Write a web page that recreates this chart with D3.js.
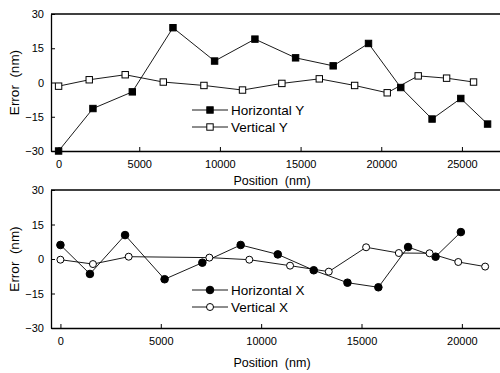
<!DOCTYPE html>
<html>
<head>
<meta charset="utf-8">
<script src="https://cdn.jsdelivr.net/npm/d3@7"></script>
<style>
  body { margin: 0; background: #fff; }
  svg { font-family: Arial, "Liberation Sans", sans-serif; }
  text { white-space: pre; }
</style>
</head>
<body>
<svg id="chart" width="500" height="373"></svg>
<script>
// top panel: Y error vs position
const horizYpos = [0, 2130, 4570, 7090, 9670, 12170, 14690, 17020, 19210, 21210, 23150, 24930, 26590];
const horizYerr = [-30, -11.4, -4.1, 24.0, 9.4, 19.0, 10.8, 7.3, 17.1, -2.2, -16.0, -7.0, -18.2];
const vertYpos = [0, 1900, 4130, 6490, 9010, 11400, 13840, 16160, 18350, 20370, 22290, 24050, 25720];
const vertYerr = [-1.6, 1.2, 3.4, 0.2, -1.3, -3.3, -0.4, 1.6, -1.3, -4.5, 2.9, 1.9, 0.2];

// bottom panel: X error vs position
const horizXpos = [0, 1470, 3220, 5190, 7070, 8980, 10830, 12620, 14300, 15840, 17320, 18690, 19950];
const horizXerr = [6.1, -6.5, 10.4, -8.8, -1.6, 6.1, 2.0, -4.9, -10.3, -12.3, 5.2, 1.0, 11.7];
const vertXpos = [0, 1620, 3400, 7420, 9410, 11440, 13370, 15230, 16860, 18390, 19820, 21160];
const vertXerr = [-0.3, -2.2, 1.0, 0.6, -0.3, -2.9, -5.5, 5.1, 2.6, 2.5, -1.3, -3.3];

const yTicks = [-30, -15, 0, 15, 30];
const xTicksTop = [0, 5000, 10000, 15000, 20000, 25000];
const xTicksBottom = [0, 5000, 10000, 15000, 20000];

const svg = d3.select('#chart');

function panel(opts) {
  const g = svg.append('g');
  const x = d3.scaleLinear().domain(opts.xDomain).range([51, 500]);
  const y = d3.scaleLinear().domain([-30, 30]).range([opts.bottom, opts.top]);

  // frame: top line and left/bottom axes
  g.append('line').attr('x1', 51).attr('x2', 500).attr('y1', opts.top).attr('y2', opts.top)
    .attr('stroke', '#000').attr('stroke-width', 1.3);

  const xAxis = g.append('g').attr('transform', `translate(0,${opts.bottom})`)
    .call(d3.axisBottom(x).tickValues(opts.xTicks).tickSizeInner(-4).tickSizeOuter(0).tickPadding(9)
      .tickFormat(d3.format('d')));
  const yAxis = g.append('g').attr('transform', 'translate(51,0)')
    .call(d3.axisLeft(y).tickValues(yTicks).tickSizeInner(-4).tickSizeOuter(0).tickPadding(7));
  [xAxis, yAxis].forEach(a => {
    a.select('.domain').attr('stroke-width', 1.3);
    a.selectAll('text').attr('font-size', 11).attr('fill', '#000')
      .attr('font-family', 'Arial, "Liberation Sans", sans-serif');
  });

  g.append('text').attr('x', 272).attr('y', opts.titleY).attr('text-anchor', 'middle')
    .attr('font-size', 12.5).text('Position  (nm)');
  g.append('text').attr('transform', `translate(19,${(opts.top + opts.bottom) / 2}) rotate(-90)`)
    .attr('text-anchor', 'middle').attr('font-size', 13.5).text('Error  (nm)');

  const line = d3.line().x(d => x(d[0])).y(d => y(d[1]));

  opts.series.forEach((s, i) => {
    const pts = s.pos.map((p, j) => [p, s.err[j]]);
    g.append('path').datum(pts).attr('d', line).attr('fill', 'none')
      .attr('stroke', '#000').attr('stroke-width', 0.9);
    drawMarkers(g, pts.map(p => [x(p[0]), y(p[1])]), s.shape, s.filled);

    // legend row
    const ly = opts.legendY + i * 17;
    g.append('line').attr('x1', 192).attr('x2', 228).attr('y1', ly).attr('y2', ly)
      .attr('stroke', '#000').attr('stroke-width', 0.9);
    drawMarkers(g, [[210, ly]], s.shape, s.filled);
    g.append('text').attr('x', 231).attr('y', ly + 5).attr('font-size', 13.5).text(s.name);
  });
}

function drawMarkers(g, pts, shape, filled) {
  if (shape === 'square') {
    g.selectAll(null).data(pts).enter().append('rect')
      .attr('x', d => d[0] - 3.2).attr('y', d => d[1] - 3.2)
      .attr('width', 6.4).attr('height', 6.4)
      .attr('fill', filled ? '#000' : '#fff').attr('stroke', '#000').attr('stroke-width', 1);
  } else {
    g.selectAll(null).data(pts).enter().append('circle')
      .attr('cx', d => d[0]).attr('cy', d => d[1]).attr('r', filled ? 3.8 : 3.5)
      .attr('fill', filled ? '#000' : '#fff').attr('stroke', '#000').attr('stroke-width', 1);
  }
}

panel({
  top: 14, bottom: 151, titleY: 185, legendY: 110,
  xDomain: [-470, 27360], xTicks: xTicksTop,
  series: [
    { name: 'Horizontal Y', pos: horizYpos, err: horizYerr, shape: 'square', filled: true },
    { name: 'Vertical Y', pos: vertYpos, err: vertYerr, shape: 'square', filled: false }
  ]
});

panel({
  top: 190, bottom: 328, titleY: 367, legendY: 290,
  xDomain: [-470, 21900], xTicks: xTicksBottom,
  series: [
    { name: 'Horizontal X', pos: horizXpos, err: horizXerr, shape: 'circle', filled: true },
    { name: 'Vertical X', pos: vertXpos, err: vertXerr, shape: 'circle', filled: false }
  ]
});
</script>
</body>
</html>
